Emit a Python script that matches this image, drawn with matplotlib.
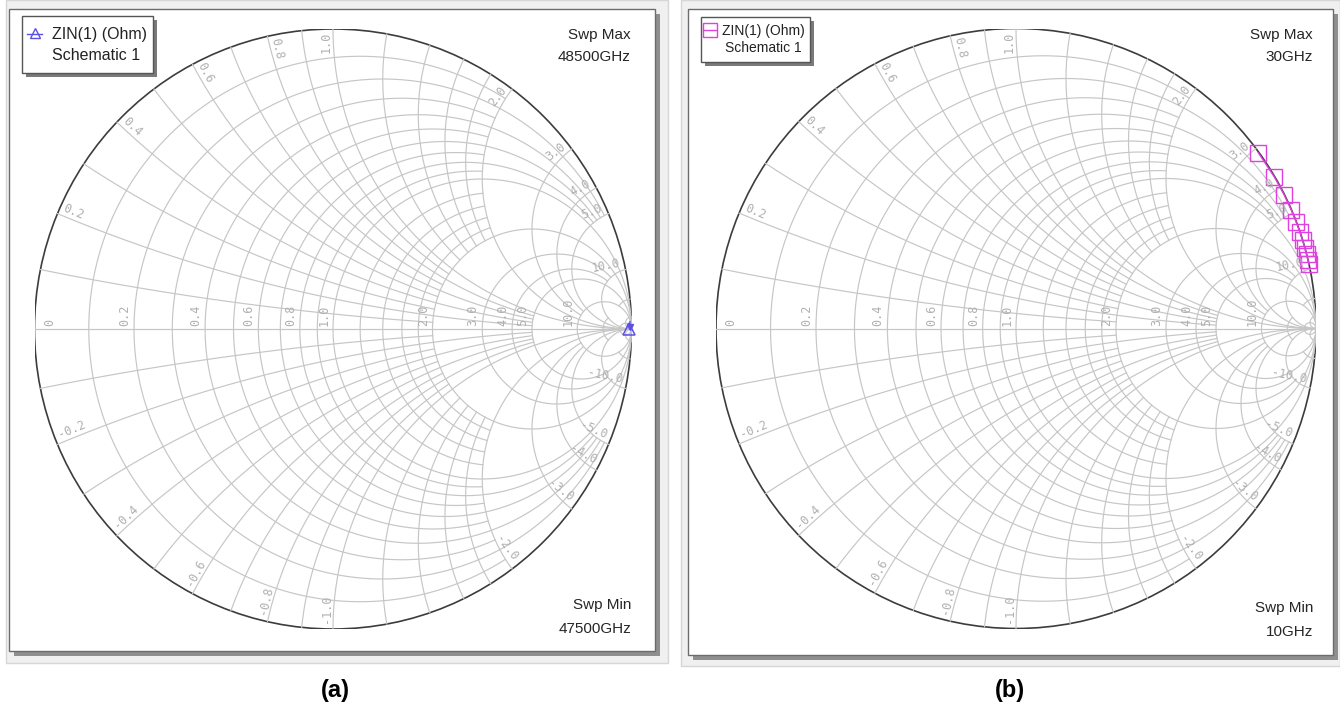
import numpy as np
import matplotlib
matplotlib.use("Agg")
import matplotlib.pyplot as plt
from matplotlib.patches import Rectangle, Ellipse

W, H = 1340, 710
Z0 = 50.0
INF = np.inf

# ZIN(1), Schematic 1 -- sweep 47500..48500 GHz
freq_a = [47500, 48000, 48500]
zin_a_re = [720.0, 3280.0, 14240.0]
zin_a_im = [3850.0, 6670.0, 0.0]

# ZIN(1), Schematic 1 -- sweep 10..30 GHz
freq_b = [10, 12, 14, 16, 18, 20, 22, 24, 26, 28, 30]
zin_b_re = [0.6, 0.6, 0.6, 0.6, 0.6, 0.6, 0.6, 0.6, 0.6, 0.6, 0.6]
zin_b_im = [154.0, 184.0, 212.0, 242.0, 272.0, 302.0, 333.0, 365.0, 398.0, 430.0, 462.0]

# smith grid: constant resistance circles and how far in |x| they run
grid_r = [0.1, 0.2, 0.3, 0.4, 0.5, 0.6, 0.7, 0.8, 0.9, 1.0,
          1.2, 1.4, 1.6, 1.8, 2.0, 3.0, 4.0, 5.0, 10.0, 20.0, 50.0]
grid_r_xmax = [2, 5, 2, 5, 2, 5, 2, 5, 2, INF,
               2, 2, 2, 2, INF, 10, 10, INF, INF, 10, INF]
# constant reactance arcs and how far in r they run
grid_x = [0.1, 0.2, 0.3, 0.4, 0.5, 0.6, 0.7, 0.8, 0.9, 1.0,
          1.2, 1.4, 1.6, 1.8, 2.0, 3.0, 4.0, 5.0, 10.0, 20.0, 50.0]
grid_x_rmax = [2, 5, 2, 5, 2, 5, 2, 5, 2, INF,
               2, 2, 2, 2, INF, 10, 10, INF, INF, 10, INF]

r_labels = [0, 0.2, 0.4, 0.6, 0.8, 1.0, 2.0, 3.0, 4.0, 5.0, 10.0]
x_labels = [0.2, 0.4, 0.6, 0.8, 1.0, 2.0, 3.0, 4.0, 5.0, 10.0]

GRID = "#c6c6c6"
LBL = "#b0b0b0"
SANS = ["Liberation Sans", "DejaVu Sans"]
MONO = "DejaVu Sans Mono"


def gamma(z):
    z = np.asarray(z, dtype=complex)
    return (z - 1) / (z + 1)


def fmt(v):
    return "0" if v == 0 else "%.1f" % v


def draw_smith(ax):
    ax.set_xlim(-1, 1)
    ax.set_ylim(-1, 1)
    ax.axis("off")
    ax.patch.set_alpha(0)

    for r, xm in zip(grid_r, grid_r_xmax):
        t = np.linspace(-np.arctan(xm), np.arctan(xm), 600)
        g = gamma(r + 1j * np.tan(t * 0.99999))
        ax.plot(g.real, g.imag, color=GRID, lw=0.85)
    for x, rm in zip(grid_x, grid_x_rmax):
        s = np.linspace(0, np.arctan(rm) * 0.99999, 600)
        for sx in (x, -x):
            g = gamma(np.tan(s) + 1j * sx)
            ax.plot(g.real, g.imag, color=GRID, lw=0.85)
    ax.plot([-1, 1], [0, 0], color=GRID, lw=0.85)
    ax.add_patch(Ellipse((0, 0), 2, 2, fill=False, ec="#3c3c3c", lw=1.2))

    # resistance labels along the real axis
    for r in r_labels:
        gx = (r - 1) / (r + 1)
        if r == 0:
            ax.annotate(fmt(r), (gx, 0), xytext=(6, 2), textcoords="offset points",
                        rotation=90, rotation_mode="anchor", ha="left", va="top",
                        fontsize=8.5, family=MONO, color=LBL)
        else:
            ax.annotate(fmt(r), (gx, 0), xytext=(-2, 2), textcoords="offset points",
                        rotation=90, rotation_mode="anchor", ha="left", va="bottom",
                        fontsize=8.5, family=MONO, color=LBL)

    # reactance labels just inside the rim
    for xv in x_labels:
        for sx in (xv, -xv):
            ge = complex(gamma(1j * sx))
            d = 1 / (1 + 1j * sx) ** 2
            d = d / abs(d)
            ang = np.degrees(np.angle(d))
            ha = "left"
            if ang <= -90 or ang > 90:
                ang = ang + 180 if ang <= -90 else ang - 180
                ha = "right"
            p = ge + 0.015 * d
            text = ("-" if sx < 0 else "") + fmt(xv)
            ax.annotate(text, (p.real, p.imag), xytext=(0, 1), textcoords="offset points",
                        rotation=ang, rotation_mode="anchor", ha=ha, va="bottom",
                        fontsize=8.5, family=MONO, color=LBL)


def px_axes(fig, x0, y0, x1, y1, z):
    ax = fig.add_axes([x0 / W, 1 - y1 / H, (x1 - x0) / W, (y1 - y0) / H])
    ax.set_zorder(z)
    return ax


def panel_frame(bg, fx0, fy0, fx1, fy1, bx0, by0, bx1, by1):
    bg.add_patch(Rectangle((fx0, fy0), fx1 - fx0, fy1 - fy0, fc="#f0f0f0", ec="#d6d6d6", lw=1))
    bg.add_patch(Rectangle((bx0 + 5, by0 + 5), bx1 - bx0, by1 - by0, fc="#8f8f8f", ec="none"))
    bg.add_patch(Rectangle((bx0, by0), bx1 - bx0, by1 - by0, fc="white", ec="#6c6c6c", lw=1))


def legend_box(fg, x0, y0, x1, y1):
    fg.add_patch(Rectangle((x0 + 4, y0 + 4), x1 - x0, y1 - y0, fc="#7a7a7a", ec="none"))
    fg.add_patch(Rectangle((x0, y0), x1 - x0, y1 - y0, fc="white", ec="#555555", lw=1))


fig = plt.figure(figsize=(W / 100, H / 100), dpi=100)
fig.patch.set_facecolor("white")

bg = px_axes(fig, 0, 0, W, H, 0)
bg.set_xlim(0, W)
bg.set_ylim(H, 0)
bg.axis("off")

panel_frame(bg, 6, 0, 668, 663, 9, 9, 655, 651)
panel_frame(bg, 681, 0, 1340, 666, 688, 9, 1333, 655)

ax_a = px_axes(fig, 34.5, 29, 631.5, 629, 1)
ax_b = px_axes(fig, 716, 28.5, 1316, 628.5, 1)
draw_smith(ax_a)
draw_smith(ax_b)

BLUE = "#5b4fe6"
MAG = "#e040e0"

g_a = gamma((np.array(zin_a_re) + 1j * np.array(zin_a_im)) / Z0)
ax_a.plot(g_a.real, g_a.imag, color=BLUE, lw=1, clip_on=False)
ax_a.plot(g_a.real[-1], g_a.imag[-1], marker="^", ms=8, mfc="none", mec=BLUE,
          mew=1.1, clip_on=False)
ax_a.plot(g_a.real[1], g_a.imag[1] - 0.004, marker="v", ms=5, color=BLUE, clip_on=False)

g_b = gamma((np.array(zin_b_re) + 1j * np.array(zin_b_im)) / Z0)
ax_b.plot(g_b.real, g_b.imag, color=MAG, lw=1, marker="s", ms=11, mfc="none",
          mec=MAG, mew=1.0, clip_on=False)

fg = px_axes(fig, 0, 0, W, H, 2)
fg.set_xlim(0, W)
fg.set_ylim(H, 0)
fg.axis("off")
fg.patch.set_alpha(0)

legend_box(fg, 22, 16, 153, 73)
fg.plot([27, 42], [34, 34], color=BLUE, lw=1)
fg.plot(34.5, 32.5, marker="^", ms=7, mfc="none", mec=BLUE, mew=1)
fg.text(52, 34, "ZIN(1) (Ohm)", fontsize=11.5, family=SANS, color="#222222", va="center")
fg.text(52, 55, "Schematic 1", fontsize=11.5, family=SANS, color="#222222", va="center")

legend_box(fg, 701, 17, 810, 62)
fg.plot([703, 716], [30, 30], color=MAG, lw=1)
fg.plot(709.5, 30, marker="s", ms=10, mfc="none", mec=MAG, mew=1)
fg.text(722, 31, "ZIN(1) (Ohm)", fontsize=10, family=SANS, color="#222222", va="center")
fg.text(725, 48, "Schematic 1", fontsize=10, family=SANS, color="#222222", va="center")

for xr, lines in ((631, [(35, "Swp Max"), (57, "48500GHz"), (605, "Swp Min"), (629, "47500GHz")]),
                  (1313, [(35, "Swp Max"), (57, "30GHz"), (608, "Swp Min"), (632, "10GHz")])):
    for y, s in lines:
        fg.text(xr, y, s, fontsize=11, family=SANS, color="#262626", ha="right", va="center")

fg.text(335, 690, "(a)", fontsize=17, family=SANS, weight="bold", ha="center", va="center")
fg.text(1010, 690, "(b)", fontsize=17, family=SANS, weight="bold", ha="center", va="center")

fig.savefig("out.png", dpi=100)
